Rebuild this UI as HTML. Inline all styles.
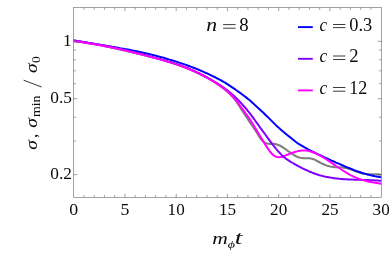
<!DOCTYPE html>
<html><head><meta charset="utf-8"><title>plot</title>
<style>
html,body{margin:0;padding:0;background:#fff;}
body{width:389px;height:253px;overflow:hidden;}
svg{display:block;}
text{font-family:"Liberation Serif",serif;fill:#000;fill-opacity:0.96;}
.i{font-style:italic;}
</style></head><body>
<svg width="389" height="253" viewBox="0 0 389 253">
<rect width="389" height="253" fill="#fff"/>
<clipPath id="cp"><rect x="73.7" y="7.5" width="307.7" height="190.0"/></clipPath>
<g clip-path="url(#cp)" fill="none" stroke-width="2" stroke-linejoin="round">
<path stroke="#808080" stroke-width="2.1" d="M73.6 41.1 L75.1 41.3 L76.6 41.5 L78.1 41.6 L79.6 41.8 L81.1 42.0 L82.6 42.2 L84.1 42.5 L85.6 42.7 L87.1 42.9 L88.6 43.2 L90.1 43.4 L91.6 43.7 L93.1 43.9 L94.6 44.2 L96.1 44.5 L97.6 44.7 L99.1 45.0 L100.6 45.3 L102.1 45.6 L103.6 45.9 L105.1 46.2 L106.6 46.5 L108.1 46.8 L109.6 47.2 L111.1 47.5 L112.6 47.8 L114.1 48.1 L115.6 48.5 L117.1 48.8 L118.6 49.1 L120.1 49.5 L121.6 49.8 L123.1 50.2 L124.6 50.5 L126.1 50.9 L127.6 51.2 L129.1 51.6 L130.6 52.0 L132.1 52.3 L133.6 52.7 L135.1 53.0 L136.6 53.4 L138.1 53.8 L139.6 54.1 L141.1 54.5 L142.6 54.9 L144.1 55.2 L145.6 55.6 L147.1 56.0 L148.6 56.4 L150.1 56.8 L151.6 57.1 L153.1 57.5 L154.6 57.9 L156.1 58.3 L157.6 58.7 L159.1 59.1 L160.6 59.5 L162.1 59.9 L163.6 60.4 L165.1 60.8 L166.6 61.2 L168.1 61.7 L169.6 62.1 L171.1 62.6 L172.6 63.1 L174.1 63.6 L175.6 64.1 L177.1 64.6 L178.6 65.1 L180.1 65.7 L181.6 66.2 L183.1 66.8 L184.6 67.4 L186.1 68.0 L187.6 68.6 L189.1 69.2 L190.6 69.8 L192.1 70.5 L193.6 71.1 L195.1 71.8 L196.6 72.5 L198.1 73.2 L199.6 73.9 L201.1 74.7 L202.6 75.4 L204.1 76.2 L205.6 77.0 L207.1 77.8 L208.6 78.6 L210.1 79.4 L211.6 80.3 L213.1 81.2 L214.6 82.2 L216.1 83.1 L217.6 84.1 L219.1 85.2 L220.6 86.2 L222.1 87.4 L223.6 88.5 L225.1 89.7 L226.6 91.0 L228.1 92.3 L229.6 93.7 L231.1 95.2 L232.6 96.9 L234.1 98.6 L235.6 100.5 L237.1 102.6 L238.6 104.9 L240.1 107.3 L241.6 109.6 L243.1 111.9 L244.6 114.2 L246.1 116.5 L247.6 118.8 L249.1 121.1 L250.6 123.3 L252.1 125.5 L253.6 127.7 L255.1 129.9 L256.6 132.3 L258.1 134.8 L259.6 137.2 L261.1 139.3 L262.6 141.0 L264.1 142.3 L265.6 143.1 L267.1 143.6 L268.6 143.8 L270.1 143.9 L271.6 143.8 L273.1 143.8 L274.6 143.9 L276.1 144.2 L277.6 144.7 L279.1 145.3 L280.6 146.0 L282.1 146.9 L283.6 147.9 L285.1 148.9 L286.6 150.0 L288.1 151.1 L289.6 152.1 L291.1 153.2 L292.6 154.2 L294.1 155.1 L295.6 156.0 L297.1 156.7 L298.6 157.3 L300.1 157.7 L301.6 158.0 L303.1 158.1 L304.6 158.2 L306.1 158.2 L307.6 158.2 L309.1 158.3 L310.6 158.5 L312.1 158.8 L313.6 159.3 L315.1 159.9 L316.6 160.7 L318.1 161.5 L319.6 162.3 L321.1 163.1 L322.6 163.8 L324.1 164.5 L325.6 165.1 L327.1 165.7 L328.6 166.1 L330.1 166.5 L331.6 166.7 L333.1 166.9 L334.6 167.1 L336.1 167.2 L337.6 167.3 L339.1 167.3 L340.6 167.4 L342.1 167.5 L343.6 167.7 L345.1 167.9 L346.6 168.2 L348.1 168.6 L349.6 169.1 L351.1 169.6 L352.6 170.1 L354.1 170.7 L355.6 171.3 L357.1 171.8 L358.6 172.3 L360.1 172.8 L361.6 173.2 L363.1 173.6 L364.6 173.8 L366.1 174.0 L367.6 174.1 L369.1 174.2 L370.6 174.2 L372.1 174.2 L373.6 174.2 L375.1 174.2 L376.6 174.2 L378.1 174.3 L379.6 174.5 L381.1 174.8 L381.5 174.9"/>
<path stroke="#0000ff" d="M73.6 40.3 L75.1 40.6 L76.6 40.9 L78.1 41.1 L79.6 41.4 L81.1 41.6 L82.6 41.9 L84.1 42.1 L85.6 42.4 L87.1 42.6 L88.6 42.9 L90.1 43.1 L91.6 43.4 L93.1 43.6 L94.6 43.9 L96.1 44.1 L97.6 44.4 L99.1 44.6 L100.6 44.9 L102.1 45.1 L103.6 45.4 L105.1 45.6 L106.6 45.9 L108.1 46.1 L109.6 46.4 L111.1 46.6 L112.6 46.9 L114.1 47.1 L115.6 47.4 L117.1 47.6 L118.6 47.9 L120.1 48.2 L121.6 48.4 L123.1 48.7 L124.6 49.0 L126.1 49.2 L127.6 49.5 L129.1 49.8 L130.6 50.1 L132.1 50.4 L133.6 50.7 L135.1 51.0 L136.6 51.3 L138.1 51.6 L139.6 51.9 L141.1 52.2 L142.6 52.6 L144.1 52.9 L145.6 53.2 L147.1 53.6 L148.6 53.9 L150.1 54.2 L151.6 54.6 L153.1 55.0 L154.6 55.4 L156.1 55.8 L157.6 56.2 L159.1 56.6 L160.6 57.0 L162.1 57.4 L163.6 57.8 L165.1 58.3 L166.6 58.7 L168.1 59.1 L169.6 59.6 L171.1 60.0 L172.6 60.5 L174.1 60.9 L175.6 61.4 L177.1 61.9 L178.6 62.4 L180.1 62.9 L181.6 63.4 L183.1 63.9 L184.6 64.4 L186.1 64.9 L187.6 65.5 L189.1 66.0 L190.6 66.6 L192.1 67.1 L193.6 67.7 L195.1 68.3 L196.6 68.9 L198.1 69.5 L199.6 70.1 L201.1 70.8 L202.6 71.4 L204.1 72.1 L205.6 72.8 L207.1 73.4 L208.6 74.1 L210.1 74.8 L211.6 75.6 L213.1 76.3 L214.6 77.0 L216.1 77.8 L217.6 78.6 L219.1 79.4 L220.6 80.2 L222.1 81.0 L223.6 81.9 L225.1 82.7 L226.6 83.7 L228.1 84.7 L229.6 85.7 L231.1 86.7 L232.6 87.7 L234.1 88.7 L235.6 89.7 L237.1 90.8 L238.6 91.8 L240.1 92.9 L241.6 94.0 L243.1 95.1 L244.6 96.2 L246.1 97.4 L247.6 98.6 L249.1 99.8 L250.6 101.1 L252.1 102.4 L253.6 103.8 L255.1 105.2 L256.6 106.6 L258.1 107.9 L259.6 109.3 L261.1 110.7 L262.6 112.1 L264.1 113.5 L265.6 115.0 L267.1 116.4 L268.6 117.9 L270.1 119.4 L271.6 120.9 L273.1 122.4 L274.6 123.9 L276.1 125.4 L277.6 126.7 L279.1 128.1 L280.6 129.4 L282.1 130.7 L283.6 132.0 L285.1 133.3 L286.6 134.5 L288.1 135.7 L289.6 136.9 L291.1 138.0 L292.6 139.3 L294.1 140.5 L295.6 141.7 L297.1 142.8 L298.6 143.8 L300.1 144.7 L301.6 145.7 L303.1 146.5 L304.6 147.4 L306.1 148.2 L307.6 149.1 L309.1 149.8 L310.6 150.6 L312.1 151.4 L313.6 152.1 L315.1 152.9 L316.6 153.6 L318.1 154.3 L319.6 155.0 L321.1 155.7 L322.6 156.4 L324.1 157.1 L325.6 157.8 L327.1 158.5 L328.6 159.2 L330.1 159.9 L331.6 160.6 L333.1 161.2 L334.6 161.9 L336.1 162.6 L337.6 163.2 L339.1 163.9 L340.6 164.5 L342.1 165.2 L343.6 165.8 L345.1 166.5 L346.6 167.1 L348.1 167.7 L349.6 168.3 L351.1 168.9 L352.6 169.5 L354.1 170.1 L355.6 170.6 L357.1 171.2 L358.6 171.7 L360.1 172.2 L361.6 172.7 L363.1 173.2 L364.6 173.6 L366.1 174.1 L367.6 174.5 L369.1 174.9 L370.6 175.3 L372.1 175.6 L373.6 175.9 L375.1 176.3 L376.6 176.5 L378.1 176.8 L379.6 177.1 L381.1 177.3 L381.5 177.4"/>
<path stroke="#7f00ff" d="M73.6 40.7 L75.1 40.9 L76.6 41.1 L78.1 41.3 L79.6 41.5 L81.1 41.7 L82.6 42.0 L84.1 42.2 L85.6 42.4 L87.1 42.7 L88.6 42.9 L90.1 43.2 L91.6 43.4 L93.1 43.7 L94.6 43.9 L96.1 44.2 L97.6 44.5 L99.1 44.7 L100.6 45.0 L102.1 45.3 L103.6 45.6 L105.1 45.9 L106.6 46.2 L108.1 46.5 L109.6 46.8 L111.1 47.1 L112.6 47.4 L114.1 47.7 L115.6 48.0 L117.1 48.3 L118.6 48.7 L120.1 49.0 L121.6 49.3 L123.1 49.7 L124.6 50.0 L126.1 50.3 L127.6 50.7 L129.1 51.0 L130.6 51.4 L132.1 51.8 L133.6 52.1 L135.1 52.5 L136.6 52.9 L138.1 53.2 L139.6 53.6 L141.1 54.0 L142.6 54.4 L144.1 54.8 L145.6 55.2 L147.1 55.6 L148.6 56.0 L150.1 56.4 L151.6 56.8 L153.1 57.2 L154.6 57.6 L156.1 58.0 L157.6 58.4 L159.1 58.8 L160.6 59.2 L162.1 59.7 L163.6 60.1 L165.1 60.5 L166.6 61.0 L168.1 61.4 L169.6 61.9 L171.1 62.3 L172.6 62.8 L174.1 63.3 L175.6 63.7 L177.1 64.2 L178.6 64.8 L180.1 65.3 L181.6 65.8 L183.1 66.4 L184.6 66.9 L186.1 67.5 L187.6 68.1 L189.1 68.7 L190.6 69.4 L192.1 70.0 L193.6 70.7 L195.1 71.4 L196.6 72.1 L198.1 72.8 L199.6 73.5 L201.1 74.3 L202.6 75.0 L204.1 75.8 L205.6 76.6 L207.1 77.4 L208.6 78.3 L210.1 79.1 L211.6 80.0 L213.1 80.9 L214.6 81.8 L216.1 82.7 L217.6 83.6 L219.1 84.6 L220.6 85.6 L222.1 86.6 L223.6 87.6 L225.1 88.7 L226.6 89.8 L228.1 91.0 L229.6 92.2 L231.1 93.4 L232.6 94.7 L234.1 96.1 L235.6 97.5 L237.1 98.9 L238.6 100.4 L240.1 102.0 L241.6 103.6 L243.1 105.3 L244.6 107.0 L246.1 108.7 L247.6 110.6 L249.1 112.4 L250.6 114.4 L252.1 116.4 L253.6 118.4 L255.1 120.5 L256.6 122.6 L258.1 124.7 L259.6 126.8 L261.1 128.8 L262.6 130.9 L264.1 132.9 L265.6 135.0 L267.1 137.1 L268.6 139.1 L270.1 141.2 L271.6 143.2 L273.1 145.1 L274.6 147.0 L276.1 148.8 M292.6 163.0 L294.1 163.8 L295.6 164.7 L297.1 165.5 L298.6 166.3 L300.1 167.1 L301.6 167.8 L303.1 168.6 L304.6 169.3 L306.1 170.0 L307.6 170.7 L309.1 171.4 L310.6 172.0 L312.1 172.6 L313.6 173.2 L315.1 173.8 L316.6 174.3 L318.1 174.7 L319.6 175.2 L321.1 175.6 L322.6 176.0 L324.1 176.4 L325.6 176.7 L327.1 177.0 L328.6 177.3 L330.1 177.6 L331.6 177.8 L333.1 178.0 L334.6 178.3 L336.1 178.4 L337.6 178.6 L339.1 178.8 L340.6 178.9 L342.1 179.0 L343.6 179.2 L345.1 179.3 L346.6 179.3 L348.1 179.4 L349.6 179.5 L351.1 179.6 L352.6 179.6 L354.1 179.7 L355.6 179.7 L357.1 179.8 L358.6 179.8 L360.1 179.8 L361.6 179.9 L363.1 179.9 L364.6 180.0 L366.1 180.0 L367.6 180.1 L369.1 180.1 L370.6 180.2 L372.1 180.2 L373.6 180.3 L375.1 180.4 L376.6 180.5 L378.1 180.6 L379.6 180.7 L381.1 180.8 L381.5 180.9"/>
<path stroke="#ff00ff" d="M73.6 41.0 L75.1 41.2 L76.6 41.4 L78.1 41.6 L79.6 41.8 L81.1 42.0 L82.6 42.3 L84.1 42.5 L85.6 42.7 L87.1 43.0 L88.6 43.2 L90.1 43.5 L91.6 43.7 L93.1 44.0 L94.6 44.2 L96.1 44.5 L97.6 44.8 L99.1 45.0 L100.6 45.3 L102.1 45.6 L103.6 45.9 L105.1 46.2 L106.6 46.5 L108.1 46.8 L109.6 47.1 L111.1 47.4 L112.6 47.7 L114.1 48.0 L115.6 48.3 L117.1 48.6 L118.6 49.0 L120.1 49.3 L121.6 49.6 L123.1 50.0 L124.6 50.3 L126.1 50.6 L127.6 51.0 L129.1 51.3 L130.6 51.7 L132.1 52.1 L133.6 52.4 L135.1 52.8 L136.6 53.2 L138.1 53.5 L139.6 53.9 L141.1 54.3 L142.6 54.7 L144.1 55.1 L145.6 55.5 L147.1 55.9 L148.6 56.3 L150.1 56.7 L151.6 57.1 L153.1 57.5 L154.6 57.9 L156.1 58.3 L157.6 58.7 L159.1 59.1 L160.6 59.6 L162.1 60.0 L163.6 60.4 L165.1 60.8 L166.6 61.3 L168.1 61.7 L169.6 62.2 L171.1 62.6 L172.6 63.1 L174.1 63.6 L175.6 64.1 L177.1 64.6 L178.6 65.1 L180.1 65.6 L181.6 66.1 L183.1 66.7 L184.6 67.3 L186.1 67.8 L187.6 68.4 L189.1 69.0 L190.6 69.7 L192.1 70.3 L193.6 70.9 L195.1 71.6 L196.6 72.3 L198.1 73.0 L199.6 73.7 L201.1 74.5 L202.6 75.2 L204.1 76.0 L205.6 76.8 L207.1 77.6 L208.6 78.5 L210.1 79.4 L211.6 80.3 L213.1 81.2 L214.6 82.1 L216.1 83.1 L217.6 84.1 L219.1 85.1 L220.6 86.1 L222.1 87.2 L223.6 88.3 L225.1 89.5 L226.6 90.7 L228.1 92.0 L229.6 93.4 L231.1 94.8 L232.6 96.4 L234.1 98.0 L235.6 99.8 L237.1 101.7 L238.6 103.7 L240.1 105.8 L241.6 107.8 L243.1 109.9 L244.6 112.0 L246.1 114.1 L247.6 116.2 L249.1 118.2 L250.6 120.5 L252.1 122.9 L253.6 125.3 L255.1 127.7 L256.6 130.2 L258.1 132.7 L259.6 135.2 L261.1 137.7 L262.6 140.2 L264.1 142.7 L265.6 145.1 L267.1 147.4 L268.6 149.7 L270.1 151.7 L271.6 153.5 L273.1 154.9 L274.6 156.0 L276.1 156.7 L277.6 157.1 L279.1 157.2 L280.6 157.0 L282.1 156.7 L283.6 156.2 L285.1 155.6 L286.6 155.0 L288.1 154.5 L289.6 153.9 L291.1 153.3 L292.6 152.7 L294.1 152.2 L295.6 151.8 L297.1 151.4 L298.6 151.0 L300.1 150.8 L301.6 150.6 L303.1 150.5 L304.6 150.5 L306.1 150.6 L307.6 150.8 L309.1 151.1 L310.6 151.5 L312.1 152.0 L313.6 152.5 L315.1 153.1 L316.6 153.8 L318.1 154.6 L319.6 155.3 L321.1 156.2 L322.6 157.0 L324.1 158.0 L325.6 158.9 L327.1 159.9 L328.6 160.9 L330.1 161.9 L331.6 162.9 L333.1 163.9 L334.6 164.9 L336.1 166.0 L337.6 167.0 L339.1 168.0 L340.6 169.0 L342.1 170.0 L343.6 171.0 L345.1 171.9 L346.6 172.9 L348.1 173.7 L349.6 174.6 L351.1 175.4 L352.6 176.1 L354.1 176.8 L355.6 177.5 L357.1 178.1 L358.6 178.7 L360.1 179.2 L361.6 179.7 L363.1 180.1 L364.6 180.6 L366.1 181.0 L367.6 181.3 L369.1 181.7 L370.6 182.0 L372.1 182.3 L373.6 182.5 L375.1 182.8 L376.6 183.0 L378.1 183.2 L379.6 183.4 L381.1 183.7 L381.5 183.7"/>
<path stroke="#7f00ff" d="M276.1 148.8 L277.6 150.6 L279.1 152.3 L280.6 153.9 L282.1 155.4 L283.6 156.8 L285.1 158.0 L286.6 159.2 L288.1 160.2 L289.6 161.2 L291.1 162.1 L292.6 163.0"/>
</g>
<g stroke="#666666" stroke-width="0.6" fill="none">
<rect x="73.7" y="7.5" width="307.7" height="190.0"/>
<g stroke-width="0.55" stroke="#505050">
<path d="M124.95 197.50V193.90M124.95 7.50V11.10"/>
<path d="M176.20 197.50V193.90M176.20 7.50V11.10"/>
<path d="M227.45 197.50V193.90M227.45 7.50V11.10"/>
<path d="M278.70 197.50V193.90M278.70 7.50V11.10"/>
<path d="M329.95 197.50V193.90M329.95 7.50V11.10"/>
<path d="M73.70 174.61H77.30M381.40 174.61H377.80"/>
<path d="M73.70 98.71H77.30M381.40 98.71H377.80"/>
<path d="M73.70 41.30H77.30M381.40 41.30H377.80"/>
</g>
<g stroke-width="0.5" stroke="#505050">
<path d="M83.95 197.50V195.00M83.95 7.50V10.00"/>
<path d="M94.20 197.50V195.00M94.20 7.50V10.00"/>
<path d="M104.45 197.50V195.00M104.45 7.50V10.00"/>
<path d="M114.70 197.50V195.00M114.70 7.50V10.00"/>
<path d="M135.20 197.50V195.00M135.20 7.50V10.00"/>
<path d="M145.45 197.50V195.00M145.45 7.50V10.00"/>
<path d="M155.70 197.50V195.00M155.70 7.50V10.00"/>
<path d="M165.95 197.50V195.00M165.95 7.50V10.00"/>
<path d="M186.45 197.50V195.00M186.45 7.50V10.00"/>
<path d="M196.70 197.50V195.00M196.70 7.50V10.00"/>
<path d="M206.95 197.50V195.00M206.95 7.50V10.00"/>
<path d="M217.20 197.50V195.00M217.20 7.50V10.00"/>
<path d="M237.70 197.50V195.00M237.70 7.50V10.00"/>
<path d="M247.95 197.50V195.00M247.95 7.50V10.00"/>
<path d="M258.20 197.50V195.00M258.20 7.50V10.00"/>
<path d="M268.45 197.50V195.00M268.45 7.50V10.00"/>
<path d="M288.95 197.50V195.00M288.95 7.50V10.00"/>
<path d="M299.20 197.50V195.00M299.20 7.50V10.00"/>
<path d="M309.45 197.50V195.00M309.45 7.50V10.00"/>
<path d="M319.70 197.50V195.00M319.70 7.50V10.00"/>
<path d="M340.20 197.50V195.00M340.20 7.50V10.00"/>
<path d="M350.45 197.50V195.00M350.45 7.50V10.00"/>
<path d="M360.70 197.50V195.00M360.70 7.50V10.00"/>
<path d="M370.95 197.50V195.00M370.95 7.50V10.00"/>
<path d="M73.70 141.03H76.20M381.40 141.03H378.90"/>
<path d="M73.70 117.20H76.20M381.40 117.20H378.90"/>
<path d="M73.70 83.61H76.20M381.40 83.61H378.90"/>
<path d="M73.70 70.84H76.20M381.40 70.84H378.90"/>
<path d="M73.70 59.78H76.20M381.40 59.78H378.90"/>
<path d="M73.70 50.03H76.20M381.40 50.03H378.90"/>
</g>
</g>
<!-- legend -->
<g stroke-width="1.9">
<path stroke="#0000ff" d="M298.0 27.1H312.8"/>
<path stroke="#7f00ff" d="M298.0 58.8H312.8"/>
<path stroke="#ff00ff" d="M298.0 90.4H312.8"/>
</g>
<g font-size="17.1" style="filter:grayscale(1)">
<text x="319.6" y="30.7" class="i" font-size="18.3" textLength="7.7" lengthAdjust="spacingAndGlyphs">c</text><path d="M333.0 24.50H345.4M333.0 27.60H345.4" stroke="#000" stroke-width="0.85" stroke-opacity="0.9" fill="none"/><text x="349.2" y="30.7" font-size="18.4" textLength="23.0" lengthAdjust="spacingAndGlyphs">0.3</text>
<text x="319.6" y="62.3" class="i" font-size="18.3" textLength="7.7" lengthAdjust="spacingAndGlyphs">c</text><path d="M333.0 56.00H345.4M333.0 59.50H345.4" stroke="#000" stroke-width="0.85" stroke-opacity="0.9" fill="none"/><text x="349.2" y="62.3" font-size="18.4" textLength="9.3" lengthAdjust="spacingAndGlyphs">2</text>
<text x="319.6" y="93.9" class="i" font-size="18.3" textLength="7.7" lengthAdjust="spacingAndGlyphs">c</text><path d="M333.0 87.50H345.4M333.0 91.20H345.4" stroke="#000" stroke-width="0.85" stroke-opacity="0.9" fill="none"/><text x="349.2" y="93.9" font-size="18.4" textLength="18.0" lengthAdjust="spacingAndGlyphs">12</text>
<text x="206.2" y="30.7" class="i" font-size="18" textLength="10.8" lengthAdjust="spacingAndGlyphs">n</text>
<path d="M223.1 24.60H235.6M223.1 28.20H235.6" stroke="#000" stroke-width="0.85" stroke-opacity="0.9" fill="none"/>
<text x="239.2" y="30.9" font-size="18.6" textLength="9.4" lengthAdjust="spacingAndGlyphs">8</text>
<!-- y tick labels -->
<text x="63.0" y="45.7" textLength="8.7" lengthAdjust="spacingAndGlyphs">1</text>
<text x="50.3" y="103.1" textLength="21.6" lengthAdjust="spacingAndGlyphs">0.5</text>
<text x="50.3" y="179.0" textLength="21.6" lengthAdjust="spacingAndGlyphs">0.2</text>
<!-- x tick labels -->
<text x="69.2" y="215.45" textLength="8.9" lengthAdjust="spacingAndGlyphs">0</text>
<text x="120.5" y="215.45" textLength="8.9" lengthAdjust="spacingAndGlyphs">5</text>
<text x="167.6" y="215.45" textLength="17.1" lengthAdjust="spacingAndGlyphs">10</text>
<text x="218.9" y="215.45" textLength="17.1" lengthAdjust="spacingAndGlyphs">15</text>
<text x="270.1" y="215.45" textLength="17.1" lengthAdjust="spacingAndGlyphs">20</text>
<text x="321.4" y="215.45" textLength="17.1" lengthAdjust="spacingAndGlyphs">25</text>
<text x="372.6" y="215.45" textLength="17.1" lengthAdjust="spacingAndGlyphs">30</text>

<!-- x label -->
<text x="212.3" y="244.2" class="i" font-size="17.1" textLength="15.6" lengthAdjust="spacingAndGlyphs">m</text>
<text x="227.8" y="248.3" class="i" font-size="11" textLength="7.2" lengthAdjust="spacingAndGlyphs">ϕ</text>
<text x="234.7" y="244.1" class="i" font-size="18.8" textLength="7.6" lengthAdjust="spacingAndGlyphs">t</text>
<!-- y label -->
<g transform="translate(36.9 149.1) rotate(-90)">
<text x="-0.6" y="0" class="i" font-size="17.1" textLength="9.6" lengthAdjust="spacingAndGlyphs">σ</text>
<text x="11.1" y="0" font-size="17.1">,</text>
<text x="21.4" y="0" class="i" font-size="17.1" textLength="9.6" lengthAdjust="spacingAndGlyphs">σ</text>
<text x="32.0" y="3.0" font-size="12" textLength="21.6" lengthAdjust="spacingAndGlyphs">min</text>
<path d="M62.1 4.7L68.9 -13.3" stroke="#000" stroke-width="0.8" fill="none"/>
<text x="76.0" y="0" class="i" font-size="17.1" textLength="9.6" lengthAdjust="spacingAndGlyphs">σ</text>
<text x="86.2" y="3.0" font-size="12" textLength="6.8" lengthAdjust="spacingAndGlyphs">0</text>
</g>
</g>
</svg>
</body></html>
